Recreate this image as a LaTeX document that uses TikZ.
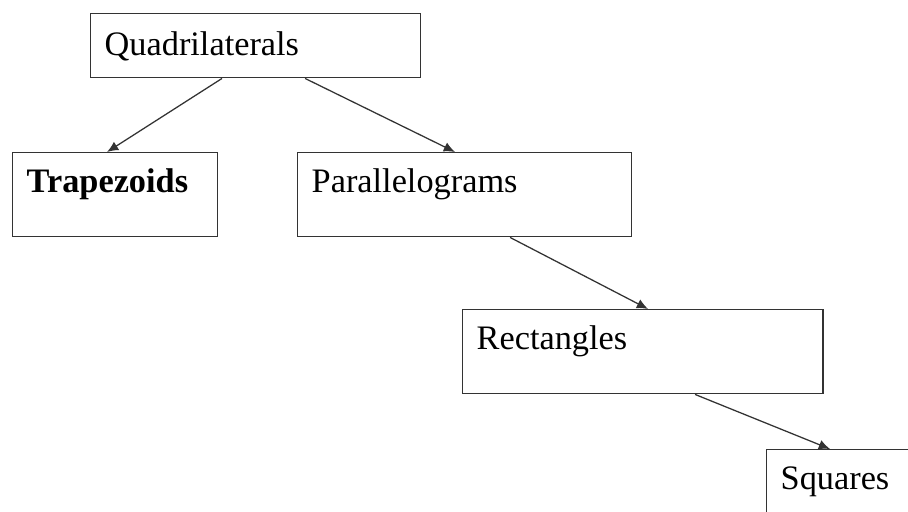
\documentclass[tikz,border=0pt]{standalone}
\usepackage{fontspec}
\setmainfont{Liberation Serif}
\usetikzlibrary{arrows.meta}

\tikzset{
  catbox/.style={draw=black!80, line width=1pt, anchor=north west, inner xsep=0.35cm, inner ysep=0pt,
    align=left, text height=1.0cm, text depth=1.1cm, font=\fontsize{24.4}{28}\selectfont},
  link/.style={-{Latex[length=8pt,width=7pt]}, line width=0.9pt, black!80}
}

\begin{document}
\begin{tikzpicture}[x=0.025cm, y=-0.025cm]
  \useasboundingbox (0,0) rectangle (908,512);
  \clip (0,0) rectangle (908,512);
  \fill[white] (0,0) rectangle (908,512);

  % hierarchy of four-sided figures
  \node[catbox, text width=7.55cm, text height=1.05cm, text depth=0.55cm] (quad) at (90,13) {Quadrilaterals};
  \node[catbox, text width=4.425cm, font=\fontsize{24.4}{28}\selectfont\bfseries] (trap) at (12,152) {Trapezoids};
  \node[catbox, text width=7.65cm] (para) at (297,152) {Parallelograms};
  \node[catbox, text width=8.3cm] (rect) at (462,309) {Rectangles};
  \node[catbox, text width=4.2cm] (squ) at (766,449) {Squares};

  % links
  \draw[link] ([xshift=3.3cm]quad.south west) -- ([xshift=2.375cm]trap.north west);
  \draw[link] ([xshift=5.375cm]quad.south west) -- ([xshift=3.95cm]para.north west);
  \draw[link] ([xshift=5.325cm]para.south west) -- ([xshift=4.65cm]rect.north west);
  \draw[link] ([xshift=5.825cm]rect.south west) -- ([xshift=1.6cm]squ.north west);
\end{tikzpicture}
\end{document}
